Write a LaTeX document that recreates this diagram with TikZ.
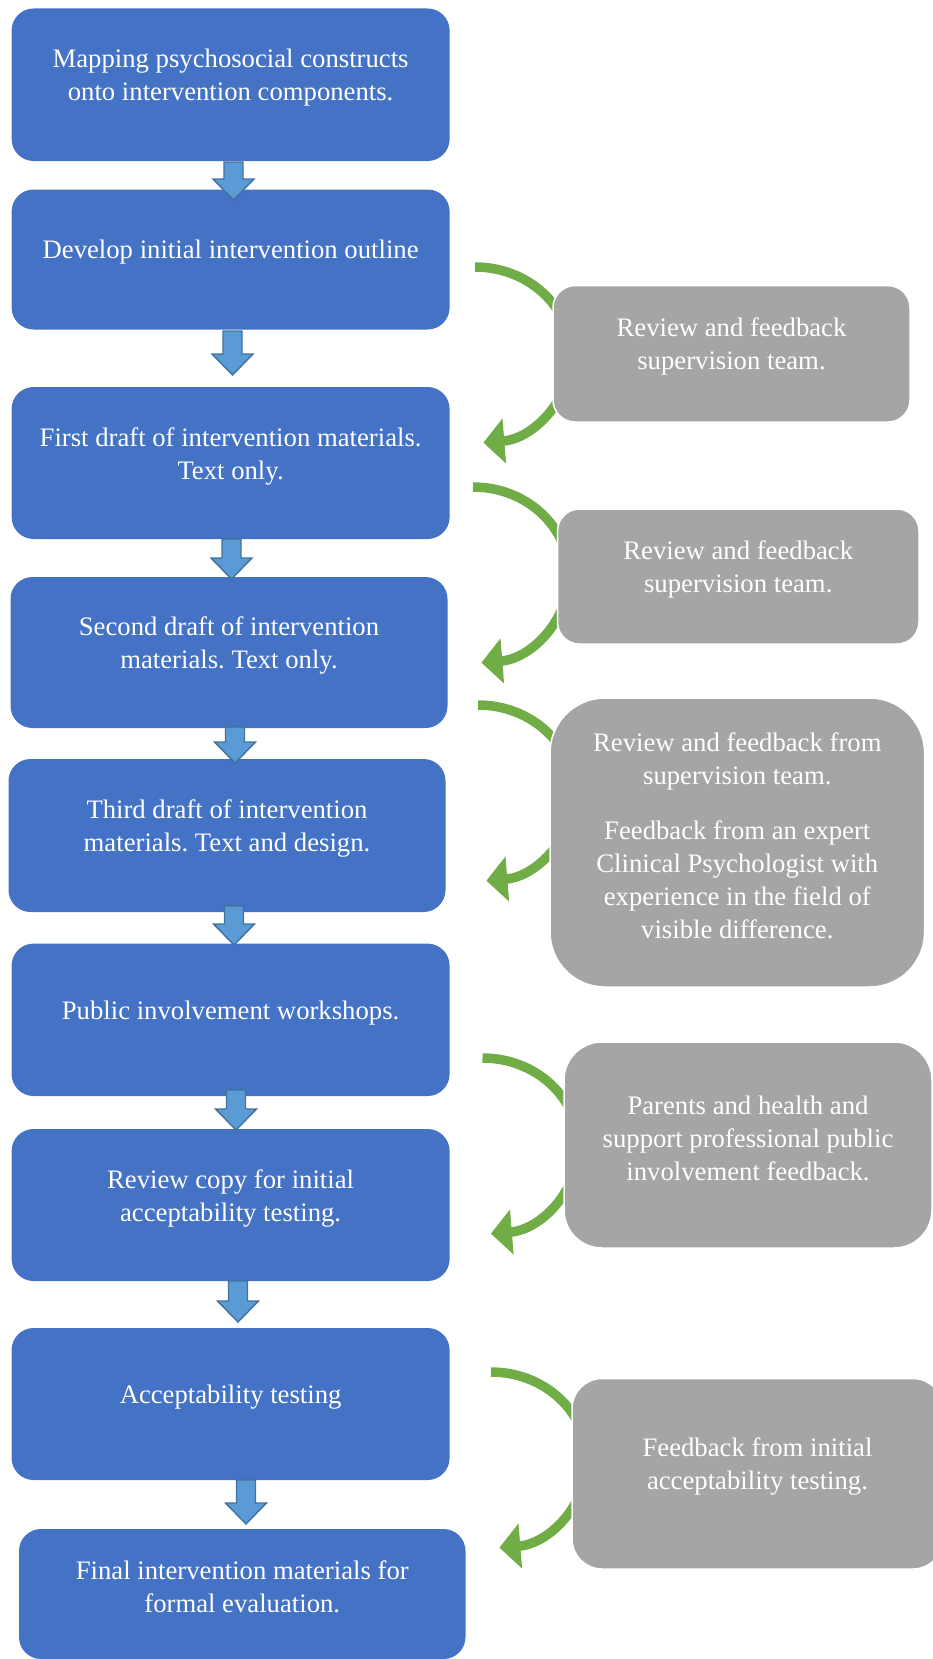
\documentclass[tikz,border=0pt]{standalone}
\usepackage{fontspec}
\setmainfont{Liberation Serif}
\usetikzlibrary{arrows.meta}
\definecolor{stageblue}{HTML}{4472C4}
\definecolor{arrowfill}{HTML}{5B9BD5}
\definecolor{arrowedge}{HTML}{41719C}
\definecolor{reviewgray}{HTML}{A5A5A5}
\definecolor{loopgreen}{HTML}{70AD47}
\frenchspacing

% block arrow pointing down: #1 centre x, #2 top y, #3 tip y
\newcommand{\downblock}[3]{%
  \draw[blockarrow] (#1-9.5,#2) -- (#1+9.5,#2) -- (#1+9.5,#3-21) -- (#1+20.5,#3-21)
    -- (#1,#3) -- (#1-20.5,#3-21) -- (#1-9.5,#3-21) -- cycle;}

\begin{document}
\begin{tikzpicture}[x=1pt,y=-1pt,
  stage/.style={fill=stageblue, rounded corners=22pt, inner sep=0pt},
  review/.style={fill=reviewgray, draw=white, line width=1.5pt, inner sep=0pt},
  lab/.style={text=white, align=center, inner sep=0pt, yshift=7pt,
    font=\fontsize{26.7}{33}\selectfont},
  blockarrow/.style={fill=arrowfill, draw=arrowedge, line width=1.4pt, line join=miter},
  loop/.style={draw=loopgreen, line width=9.5pt,
    -{Triangle[length=21pt,width=44pt]}}
]
\useasboundingbox (0,0) rectangle (932,1659);

% feedback loops (partly hidden behind the review boxes)
\coordinate (l1) at (475,267);
\coordinate (l2) at (473,487);
\coordinate (l3) at (478,705);
\coordinate (l4) at (482.5,1058);
\coordinate (l5) at (491,1372);
\foreach \c in {l1,l2,l3,l4,l5}
  \draw[loop] (\c) arc[start angle=90, end angle=-85, x radius=96pt, y radius=88pt];

% review boxes
\node[review, rounded corners=22pt, minimum width=357pt, minimum height=136.4pt] (g1) at (731.5,353.8) {};
\node[review, rounded corners=22pt, minimum width=361.5pt, minimum height=135pt] (g2) at (738.25,576.5) {};
\node[review, rounded corners=55pt, minimum width=374.6pt, minimum height=289pt] (g3) at (737.3,842.5) {};
\node[review, rounded corners=38pt, minimum width=368pt, minimum height=206pt] (g4) at (748,1145) {};
\node[review, rounded corners=30pt, minimum width=371pt, minimum height=190.5pt] (g5) at (757.5,1473.75) {};

\node[lab] (g1t) at (g1.center) {Review and feedback\\supervision team.};
\node[lab] (g2t) at (g2.center) {Review and feedback\\supervision team.};
\node[lab] (g3t) at (g3.center) {Review and feedback from\\supervision team.\\[22pt]Feedback from an expert\\Clinical Psychologist with\\experience in the field of\\visible difference.};
\node[lab] (g4t) at (g4.center) {Parents and health and\\support professional public\\involvement feedback.};
\node[lab] (g5t) at (g5.center) {Feedback from initial\\acceptability testing.};

% development stages
\node[stage, minimum width=438pt, minimum height=152.5pt] (b1) at (230.6,84.75) {};
\node[stage, minimum width=438pt, minimum height=140pt] (b2) at (230.6,259.5) {};
\node[stage, minimum width=438pt, minimum height=152pt] (b3) at (230.6,463) {};
\node[stage, minimum width=437pt, minimum height=151pt] (b4) at (229,652.5) {};
\node[stage, minimum width=437pt, minimum height=153pt] (b5) at (227,835.5) {};
\node[stage, minimum width=438pt, minimum height=152.4pt] (b6) at (230.6,1019.8) {};
\node[stage, minimum width=438pt, minimum height=152pt] (b7) at (230.6,1205) {};
\node[stage, minimum width=438pt, minimum height=152pt] (b8) at (230.6,1404) {};
\node[stage, minimum width=446.5pt, minimum height=130pt] (b9) at (242.25,1594) {};

\node[lab] (b1t) at (b1.center) {Mapping psychosocial constructs\\onto intervention components.};
\node[lab] (b2t) at (b2.center) {Develop initial intervention outline};
\node[lab] (b3t) at (b3.center) {First draft of intervention materials.\\Text only.};
\node[lab] (b4t) at (b4.center) {Second draft of intervention\\materials. Text only.};
\node[lab] (b5t) at (b5.center) {Third draft of intervention\\materials. Text and design.};
\node[lab] (b6t) at (b6.center) {Public involvement workshops.};
\node[lab] (b7t) at (b7.center) {Review copy for initial\\acceptability testing.};
\node[lab] (b8t) at (b8.center) {Acceptability testing};
\node[lab] (b9t) at (b9.center) {Final intervention materials for\\formal evaluation.};

% arrows between stages
\downblock{233.5}{162}{200}
\downblock{232.5}{331}{375}
\downblock{231.5}{539}{579}
\downblock{235}{727}{763}
\downblock{234}{906}{945}
\downblock{236}{1090}{1130}
\downblock{238}{1281}{1322}
\downblock{246}{1480}{1524}
\end{tikzpicture}
\end{document}
